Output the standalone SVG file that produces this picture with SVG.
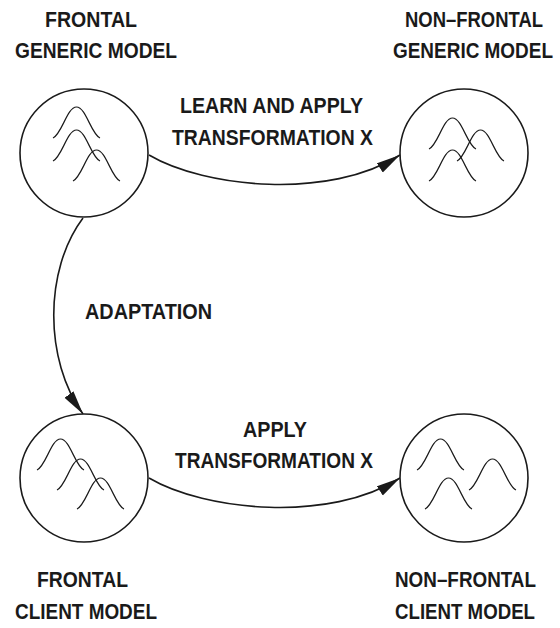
<svg xmlns="http://www.w3.org/2000/svg" xmlns:xlink="http://www.w3.org/1999/xlink" width="560" height="628" viewBox="0 0 560 628">
<style>
.lbl{font-family:"Liberation Sans",Arial,sans-serif;font-weight:bold;font-size:19.2px;fill:#1a1a1a}
.node{fill:#fff;stroke:#1a1a1a;stroke-width:1.6}
.bell{fill:none;stroke:#1a1a1a;stroke-width:1.2}
.edge{fill:none;stroke:#1a1a1a;stroke-width:1.6}
</style>
<defs>
<path id="bell" d="M0 0 C9 -4 14 -31 23.5 -31 C33 -31 38 -4 47 0"/>
<marker id="arr" markerUnits="userSpaceOnUse" markerWidth="26" markerHeight="12" refX="24" refY="5.5" orient="auto">
<path d="M0 0 L24 5.5 L0 11 Z" fill="#1a1a1a"/>
</marker>
</defs>
<g id="connectors">
<path class="edge" d="M149 155 C205 188 330 200 400 155" marker-end="url(#arr)"/>
<path class="edge" d="M149 478 C205 511 330 523 400 478" marker-end="url(#arr)"/>
<path class="edge" d="M83 218 C44 270 44 360 83 414" marker-end="url(#arr)"/>
</g>
<g id="frontal-generic">
<circle class="node" cx="84" cy="153" r="64"/>
<use xlink:href="#bell" class="bell" x="53" y="138"/>
<use xlink:href="#bell" class="bell" x="53" y="161"/>
<use xlink:href="#bell" class="bell" x="73" y="181"/>
<text class="lbl" transform="translate(45,27) scale(1,1.15)" textLength="92" lengthAdjust="spacingAndGlyphs">FRONTAL</text>
<text class="lbl" transform="translate(15,58) scale(1,1.15)" textLength="162" lengthAdjust="spacingAndGlyphs">GENERIC MODEL</text>
</g>
<g id="nonfrontal-generic">
<circle class="node" cx="464" cy="153" r="64"/>
<use xlink:href="#bell" class="bell" x="429" y="149"/>
<use xlink:href="#bell" class="bell" x="457" y="161"/>
<use xlink:href="#bell" class="bell" x="429" y="181"/>
<text class="lbl" transform="translate(405,27) scale(1,1.15)" textLength="138" lengthAdjust="spacingAndGlyphs">NON–FRONTAL</text>
<text class="lbl" transform="translate(393,58) scale(1,1.15)" textLength="160" lengthAdjust="spacingAndGlyphs">GENERIC MODEL</text>
</g>
<g id="frontal-client">
<circle class="node" cx="84" cy="478" r="64"/>
<use xlink:href="#bell" class="bell" x="37" y="470"/>
<use xlink:href="#bell" class="bell" x="57" y="490"/>
<use xlink:href="#bell" class="bell" x="77" y="509"/>
<text class="lbl" transform="translate(37,587) scale(1,1.15)" textLength="91" lengthAdjust="spacingAndGlyphs">FRONTAL</text>
<text class="lbl" transform="translate(15,619) scale(1,1.15)" textLength="142" lengthAdjust="spacingAndGlyphs">CLIENT MODEL</text>
</g>
<g id="nonfrontal-client">
<circle class="node" cx="464" cy="478" r="64"/>
<use xlink:href="#bell" class="bell" x="417" y="470"/>
<use xlink:href="#bell" class="bell" x="469" y="490"/>
<use xlink:href="#bell" class="bell" x="425" y="509"/>
<text class="lbl" transform="translate(395,587) scale(1,1.15)" textLength="141" lengthAdjust="spacingAndGlyphs">NON–FRONTAL</text>
<text class="lbl" transform="translate(395,619) scale(1,1.15)" textLength="140" lengthAdjust="spacingAndGlyphs">CLIENT MODEL</text>
</g>
<g id="edge-labels">
<text class="lbl" transform="translate(180,113) scale(1,1.15)" textLength="183" lengthAdjust="spacingAndGlyphs">LEARN AND APPLY</text>
<text class="lbl" transform="translate(172,145) scale(1,1.15)" textLength="201" lengthAdjust="spacingAndGlyphs">TRANSFORMATION X</text>
<text class="lbl" transform="translate(85,319) scale(1,1.15)" textLength="127" lengthAdjust="spacingAndGlyphs">ADAPTATION</text>
<text class="lbl" transform="translate(243,437) scale(1,1.15)" textLength="64" lengthAdjust="spacingAndGlyphs">APPLY</text>
<text class="lbl" transform="translate(175,468) scale(1,1.15)" textLength="198" lengthAdjust="spacingAndGlyphs">TRANSFORMATION X</text>
</g>
</svg>
